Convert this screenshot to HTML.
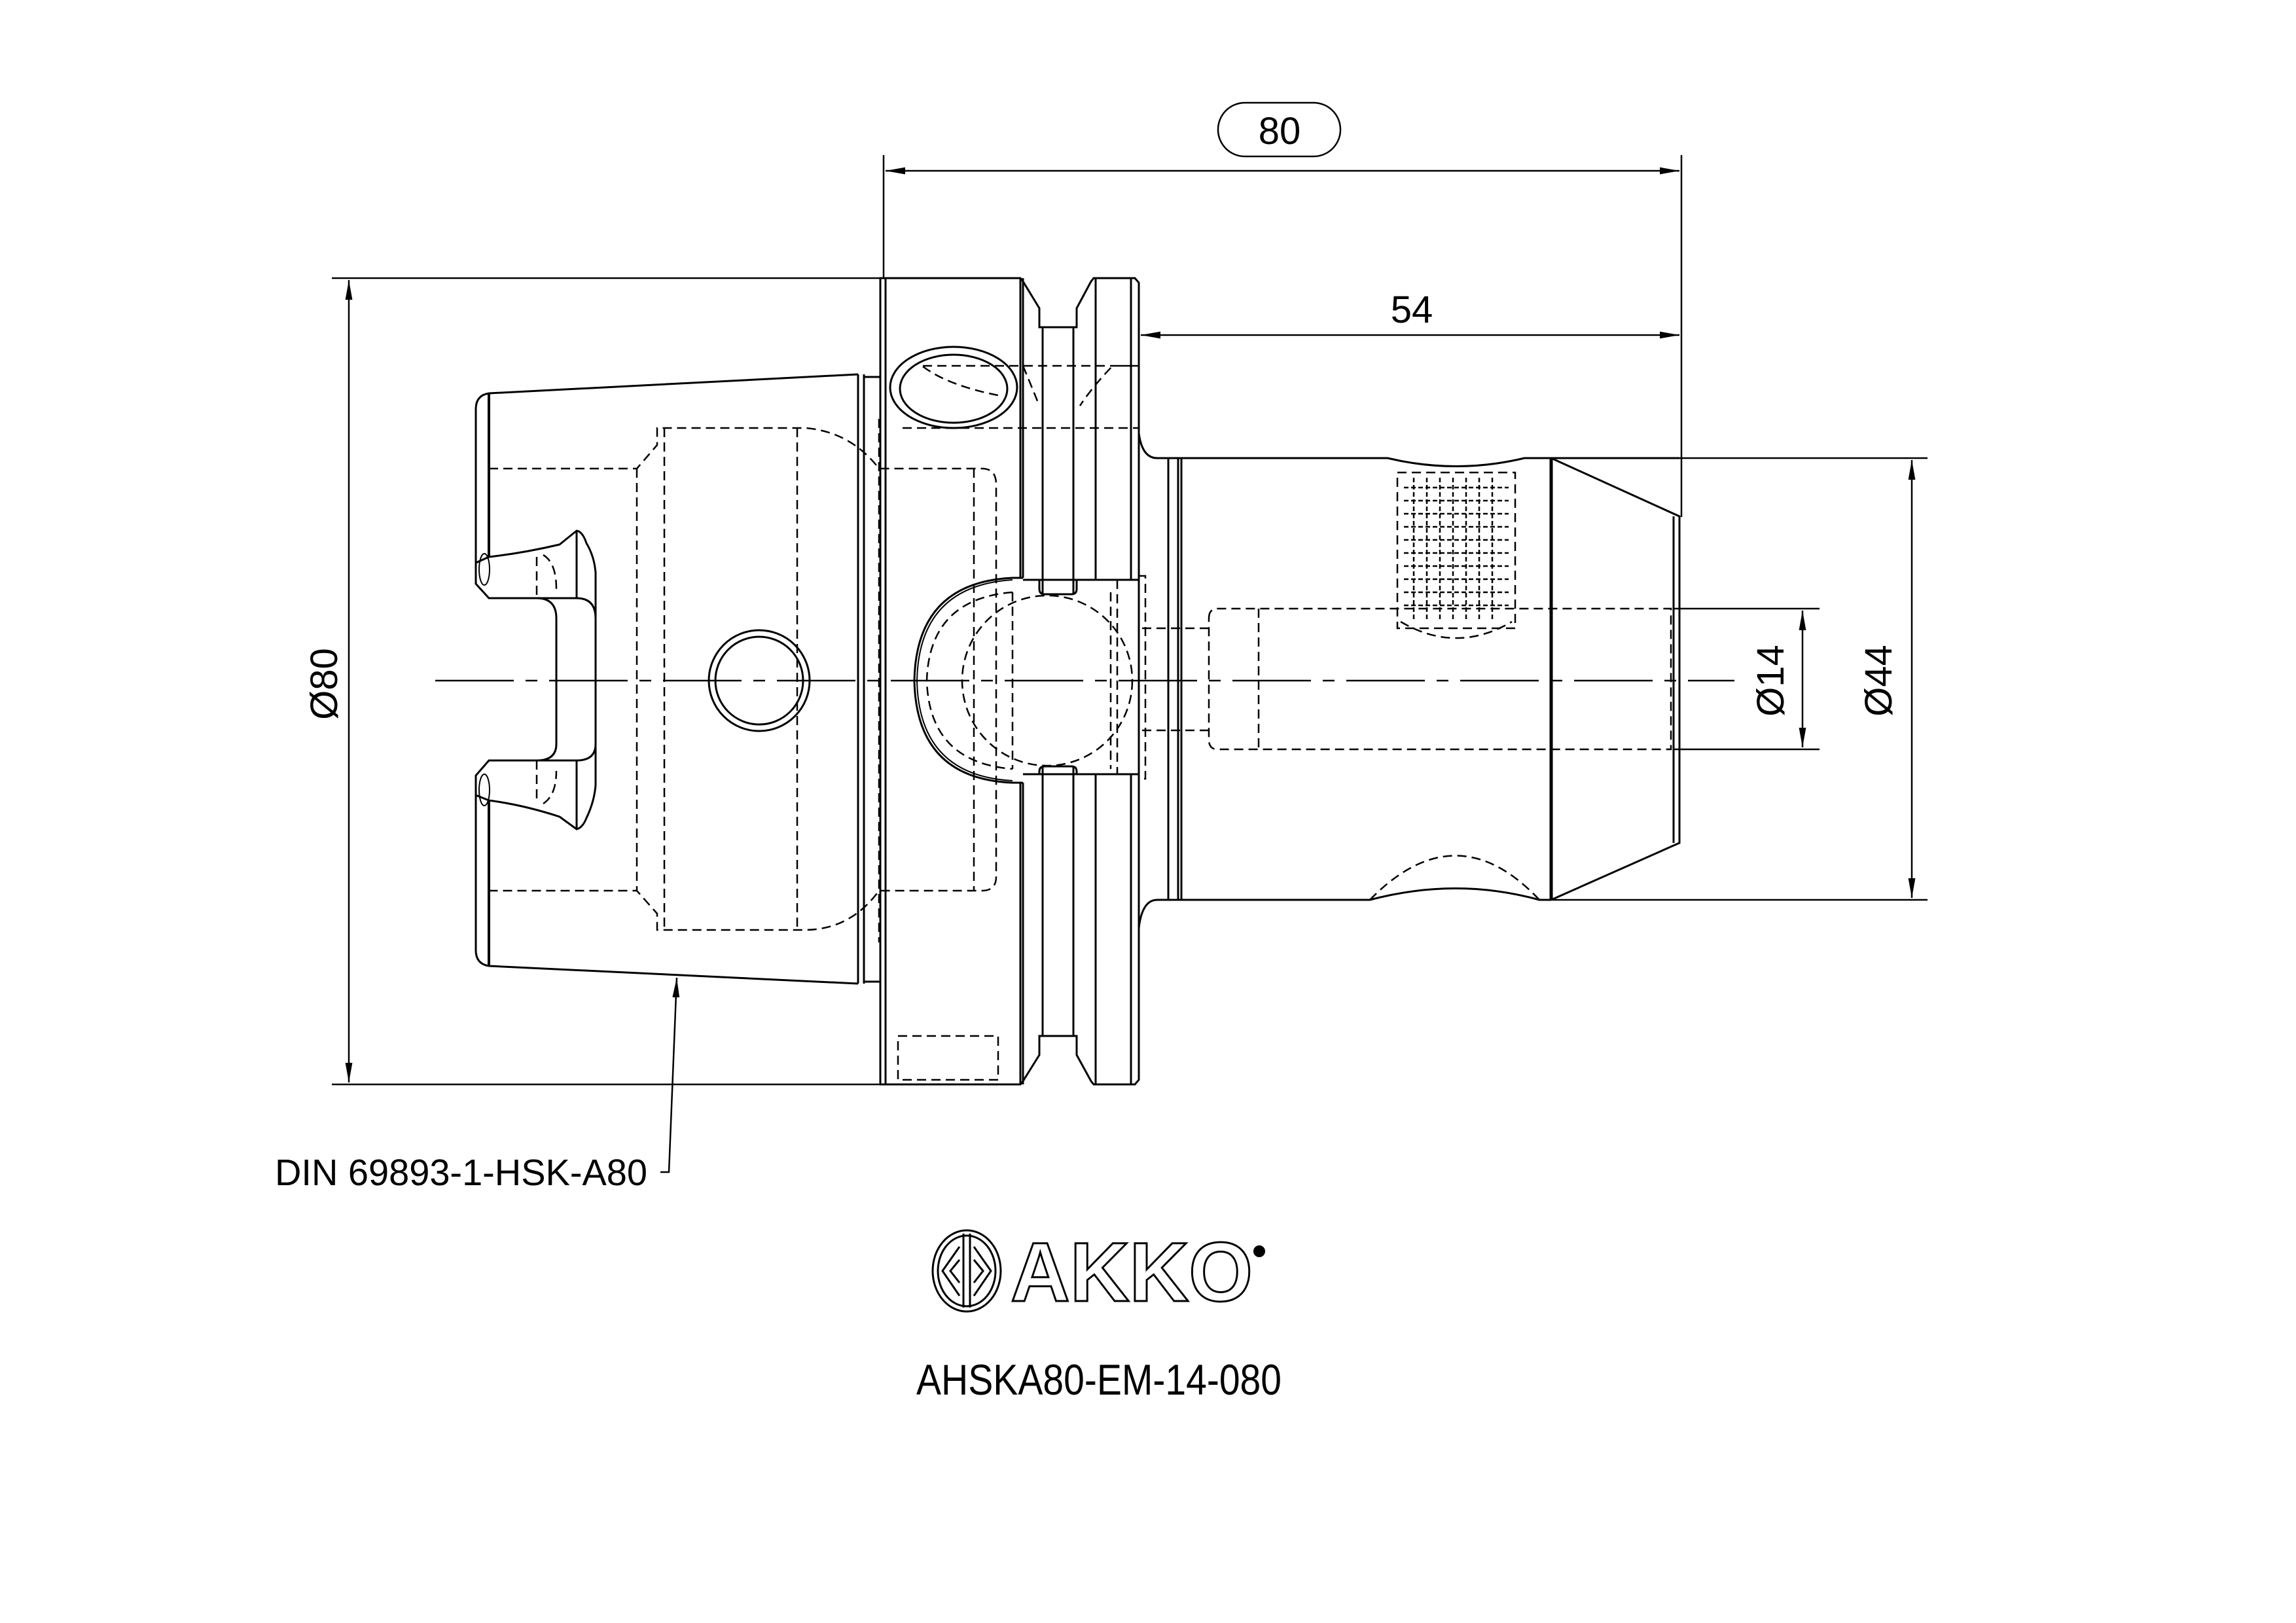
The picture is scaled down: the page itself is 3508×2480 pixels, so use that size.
<!DOCTYPE html>
<html><head><meta charset="utf-8"><style>html,body{margin:0;padding:0;background:#fff}svg{display:block}</style></head>
<body>
<svg width="3508" height="2480" viewBox="0 0 3508 2480" xmlns="http://www.w3.org/2000/svg" font-family="Liberation Sans, sans-serif">
<defs>
<marker id="a" viewBox="0 0 10 10" refX="10" refY="5" markerWidth="30" markerHeight="30" markerUnits="userSpaceOnUse" orient="auto-start-reverse"><path d="M0,3.2 L10,5 L0,6.8 z" fill="#000"/></marker>
</defs>
<rect width="3508" height="2480" fill="#fff"/>
<g fill="none" stroke="#000" stroke-width="3">
<!-- Ø80 dim -->
<line x1="507" y1="425" x2="1350" y2="425" stroke-width="2.5"/>
<line x1="507" y1="1657" x2="1350" y2="1657" stroke-width="2.5"/>
<line x1="533" y1="428" x2="533" y2="1654" stroke-width="2.5" marker-start="url(#a)" marker-end="url(#a)"/>
<!-- 80 dim -->
<line x1="1350" y1="237" x2="1350" y2="425" stroke-width="2.5"/>
<line x1="2569" y1="237" x2="2569" y2="790" stroke-width="2.5"/>
<line x1="1353" y1="261" x2="2566" y2="261" stroke-width="2.5" marker-start="url(#a)" marker-end="url(#a)"/>
<rect x="1861" y="157" width="187" height="82" rx="41" stroke-width="2.5"/>
<!-- 54 dim -->
<line x1="1743" y1="512" x2="2566" y2="512" stroke-width="2.5" marker-start="url(#a)" marker-end="url(#a)"/>
<!-- Ø14 -->
<line x1="2557" y1="930" x2="2780" y2="930" stroke-width="2.5"/>
<line x1="2557" y1="1145" x2="2780" y2="1145" stroke-width="2.5"/>
<line x1="2754" y1="933" x2="2754" y2="1142" stroke-width="2.5" marker-start="url(#a)" marker-end="url(#a)"/>
<!-- Ø44 -->
<line x1="2370" y1="700" x2="2945" y2="700" stroke-width="2.5"/>
<line x1="2370" y1="1375" x2="2945" y2="1375" stroke-width="2.5"/>
<line x1="2921" y1="703" x2="2921" y2="1372" stroke-width="2.5" marker-start="url(#a)" marker-end="url(#a)"/>
<!-- leader -->
<polyline points="1009,1791 1022,1791 1034,1494" stroke-width="2.5" marker-end="url(#a)"/>

<!-- taper -->
<path d="M1311,572 L747,601 Q727,604 727,625 L727,892 L747,914 L881,914 Q910,914 910,945 L910,1137 Q910,1162 881,1162 L747,1162 L727,1185 L727,1452 Q727,1473 747,1476 L1311,1503"/>
<line x1="747" y1="601" x2="747" y2="851" stroke-width="4"/>
<line x1="747" y1="1223" x2="747" y2="1476" stroke-width="4"/>
<line x1="1311" y1="572" x2="1311" y2="1503"/>
<line x1="1320" y1="572" x2="1320" y2="1503"/>
<line x1="1320" y1="576" x2="1345" y2="576"/>
<line x1="1320" y1="1500" x2="1345" y2="1500"/>
<!-- notches -->
<path d="M727,860 L747,851 Q800,845 855,832 L881,811 Q890,812 896,830 Q908,850 910,875 L910,945"/>
<path d="M727,1215 L747,1223 Q800,1230 855,1248 L881,1267 Q890,1265 896,1250 Q908,1225 910,1200 L910,1137"/>
<path d="M820,914 Q850,914 850,945 L850,1137 Q850,1162 820,1162"/>
<line x1="881" y1="811" x2="881" y2="914"/>
<line x1="881" y1="1162" x2="881" y2="1267"/>
<ellipse cx="740" cy="870" rx="8" ry="24" stroke-width="2"/>
<ellipse cx="740" cy="1207" rx="8" ry="24" stroke-width="2"/>
<!-- small circle -->
<circle cx="1160" cy="1040" r="77"/>
<circle cx="1160" cy="1040" r="67"/>
<!-- flange -->
<path d="M1345,425 L1559,425 L1563,430 L1588,471 L1588,500 L1645,500 L1645,471 L1667,430 L1671,425 L1734,425 L1740,432 L1740,1650 L1734,1657 L1671,1657 L1667,1652 L1645,1612 L1645,1583 L1588,1583 L1588,1612 L1563,1652 L1559,1657 L1345,1657 Z"/>
<line x1="1353" y1="425" x2="1353" y2="1657"/>
<line x1="1559" y1="425" x2="1559" y2="883"/>
<line x1="1563" y1="425" x2="1563" y2="883"/>
<line x1="1559" y1="1196" x2="1559" y2="1657"/>
<line x1="1563" y1="1196" x2="1563" y2="1657"/>
<line x1="1593" y1="500" x2="1593" y2="908"/>
<line x1="1640" y1="500" x2="1640" y2="908"/>
<line x1="1593" y1="1171" x2="1593" y2="1583"/>
<line x1="1640" y1="1171" x2="1640" y2="1583"/>
<line x1="1674" y1="425" x2="1674" y2="886"/>
<line x1="1728" y1="425" x2="1728" y2="886"/>
<line x1="1674" y1="1183" x2="1674" y2="1657"/>
<line x1="1728" y1="1183" x2="1728" y2="1657"/>
<path d="M1588,886 L1588,900 Q1588,908 1596,908 L1637,908 Q1645,908 1645,900 L1645,886"/>
<path d="M1588,1183 L1588,1179 Q1588,1171 1596,1171 L1637,1171 Q1645,1171 1645,1179 L1645,1183"/>
<!-- big cross hole -->
<path d="M1563,883 L1547,883 Q1400,890 1397,1040 Q1400,1190 1547,1196 L1563,1196"/>
<path d="M1547,886 Q1404,895 1401,1040 Q1404,1185 1547,1193" stroke-width="2"/>
<line x1="1563" y1="886" x2="1740" y2="886"/>
<line x1="1563" y1="1183" x2="1740" y2="1183"/>
<!-- top oval -->
<ellipse cx="1457" cy="592" rx="97" ry="62"/>
<ellipse cx="1457" cy="594" rx="82" ry="52"/>
<!-- neck & shaft -->
<path d="M1740,662 Q1745,700 1768,700 L2120,700 Q2225,725 2329,700 L2566,700"/>
<path d="M1740,1418 Q1745,1375 1768,1375 L2093,1375 Q2225,1340 2352,1375 L2370,1375"/>
<line x1="1785" y1="700" x2="1785" y2="1375"/>
<line x1="1800" y1="700" x2="1800" y2="1375"/>
<line x1="1805" y1="700" x2="1805" y2="1375"/>
<line x1="2370" y1="700" x2="2370" y2="1375" stroke-width="5"/>
<path d="M2370,700 L2566,789 L2566,1288 L2370,1375"/>
<line x1="2557" y1="789" x2="2557" y2="1288"/>
</g>
<!-- centre line -->
<line x1="665" y1="1040" x2="2650" y2="1040" stroke="#000" stroke-width="2.5" stroke-dasharray="120 18 18 18"/>
<!-- hidden lines -->
<g fill="none" stroke="#000" stroke-width="2.5" stroke-dasharray="14 8">
<path d="M747,716 L973,716 L1004,680 L1004,654 L1231,654 Q1300,660 1343,716 L1500,716 Q1522,716 1522,740 L1522,1340 Q1522,1361 1500,1361 L1343,1361 Q1300,1420 1231,1421 L1004,1421 L1004,1396 L973,1361 L747,1361"/>
<line x1="973" y1="716" x2="973" y2="1361"/>
<line x1="1015" y1="654" x2="1015" y2="1421"/>
<line x1="1218" y1="654" x2="1218" y2="1421"/>
<line x1="1488" y1="716" x2="1488" y2="1361"/>
<line x1="1343" y1="640" x2="1343" y2="1440"/>
<line x1="820" y1="851" x2="820" y2="914"/>
<line x1="820" y1="1162" x2="820" y2="1225"/>
<path d="M830,848 Q850,860 850,900 M830,1228 Q850,1215 850,1178"/>
<path d="M1410,559 L1728,559 M1410,560 Q1450,590 1530,605 M1379,654 L1740,654 M1563,559 Q1580,600 1588,620 M1740,559 L1700,559 Q1670,590 1650,620"/>
<rect x="1372" y="1583" width="153" height="67"/>
<path d="M1547,905 Q1420,915 1416,1040 Q1420,1165 1547,1175"/>
<ellipse cx="1600" cy="1040" rx="130" ry="130"/>
<line x1="1547" y1="905" x2="1547" y2="1175"/>
<line x1="1697" y1="905" x2="1697" y2="1175"/>
<line x1="1707" y1="886" x2="1707" y2="1183"/>
<rect x="1740" y="880" width="10" height="310"/>
<line x1="1745" y1="960" x2="1847" y2="960"/>
<line x1="1745" y1="1116" x2="1847" y2="1116"/>
<path d="M1847,945 Q1847,930 1860,930 L2553,930 L2553,1145 L1860,1145 Q1847,1145 1847,1130 Z"/>
<line x1="1923" y1="930" x2="1923" y2="1145"/>
<rect x="2135" y="722" width="180" height="238"/>
<path d="M2140,950 Q2225,1000 2310,950"/>
<path d="M2093,1375 Q2225,1240 2352,1375"/>
</g>
<!-- thread hatch -->
<g stroke="#000" stroke-width="2.5" stroke-dasharray="7 4">
<line x1="2145" y1="745" x2="2305" y2="745"/><line x1="2145" y1="765" x2="2305" y2="765"/><line x1="2145" y1="785" x2="2305" y2="785"/><line x1="2145" y1="805" x2="2305" y2="805"/><line x1="2145" y1="825" x2="2305" y2="825"/><line x1="2145" y1="845" x2="2305" y2="845"/><line x1="2145" y1="865" x2="2305" y2="865"/><line x1="2145" y1="885" x2="2305" y2="885"/><line x1="2145" y1="905" x2="2305" y2="905"/><line x1="2145" y1="925" x2="2305" y2="925"/>
<line x1="2160" y1="730" x2="2160" y2="950"/><line x1="2180" y1="730" x2="2180" y2="950"/><line x1="2200" y1="730" x2="2200" y2="950"/><line x1="2220" y1="730" x2="2220" y2="950"/><line x1="2240" y1="730" x2="2240" y2="950"/><line x1="2260" y1="730" x2="2260" y2="950"/><line x1="2280" y1="730" x2="2280" y2="950"/>
</g>
<!-- texts -->
<g fill="#000" font-size="58">
<text x="1955" y="220" text-anchor="middle">80</text>
<text x="2157" y="493" text-anchor="middle">54</text>
<text transform="translate(515,1045) rotate(-90)" text-anchor="middle">Ø80</text>
<text transform="translate(2725,1040) rotate(-90)" text-anchor="middle">Ø14</text>
<text transform="translate(2890,1040) rotate(-90)" text-anchor="middle">Ø44</text>
<text x="420" y="1811" font-size="57" textLength="569" lengthAdjust="spacingAndGlyphs">DIN 69893-1-HSK-A80</text>
<text x="1400" y="2131" font-size="66" textLength="558" lengthAdjust="spacingAndGlyphs">AHSKA80-EM-14-080</text>
</g>
<!-- logo -->
<g fill="none" stroke="#000" stroke-width="3">
<ellipse cx="1477" cy="1942" rx="52" ry="62"/>
<ellipse cx="1477" cy="1942" rx="44" ry="54"/>
<path d="M1472,1885 L1472,1998 M1482,1885 L1482,1998"/>
<path d="M1466,1905 L1440,1942 L1466,1980 M1488,1905 L1514,1942 L1488,1980"/>
<path d="M1466,1925 L1452,1942 L1466,1960 M1488,1925 L1502,1942 L1488,1960"/>
</g>
<text x="1544" y="1988" font-size="128" font-weight="bold" fill="#fff" stroke="#000" stroke-width="3" textLength="370" lengthAdjust="spacingAndGlyphs">AKKO</text>
<circle cx="1924" cy="1912" r="9" fill="#000"/>
</svg>
</body></html>
